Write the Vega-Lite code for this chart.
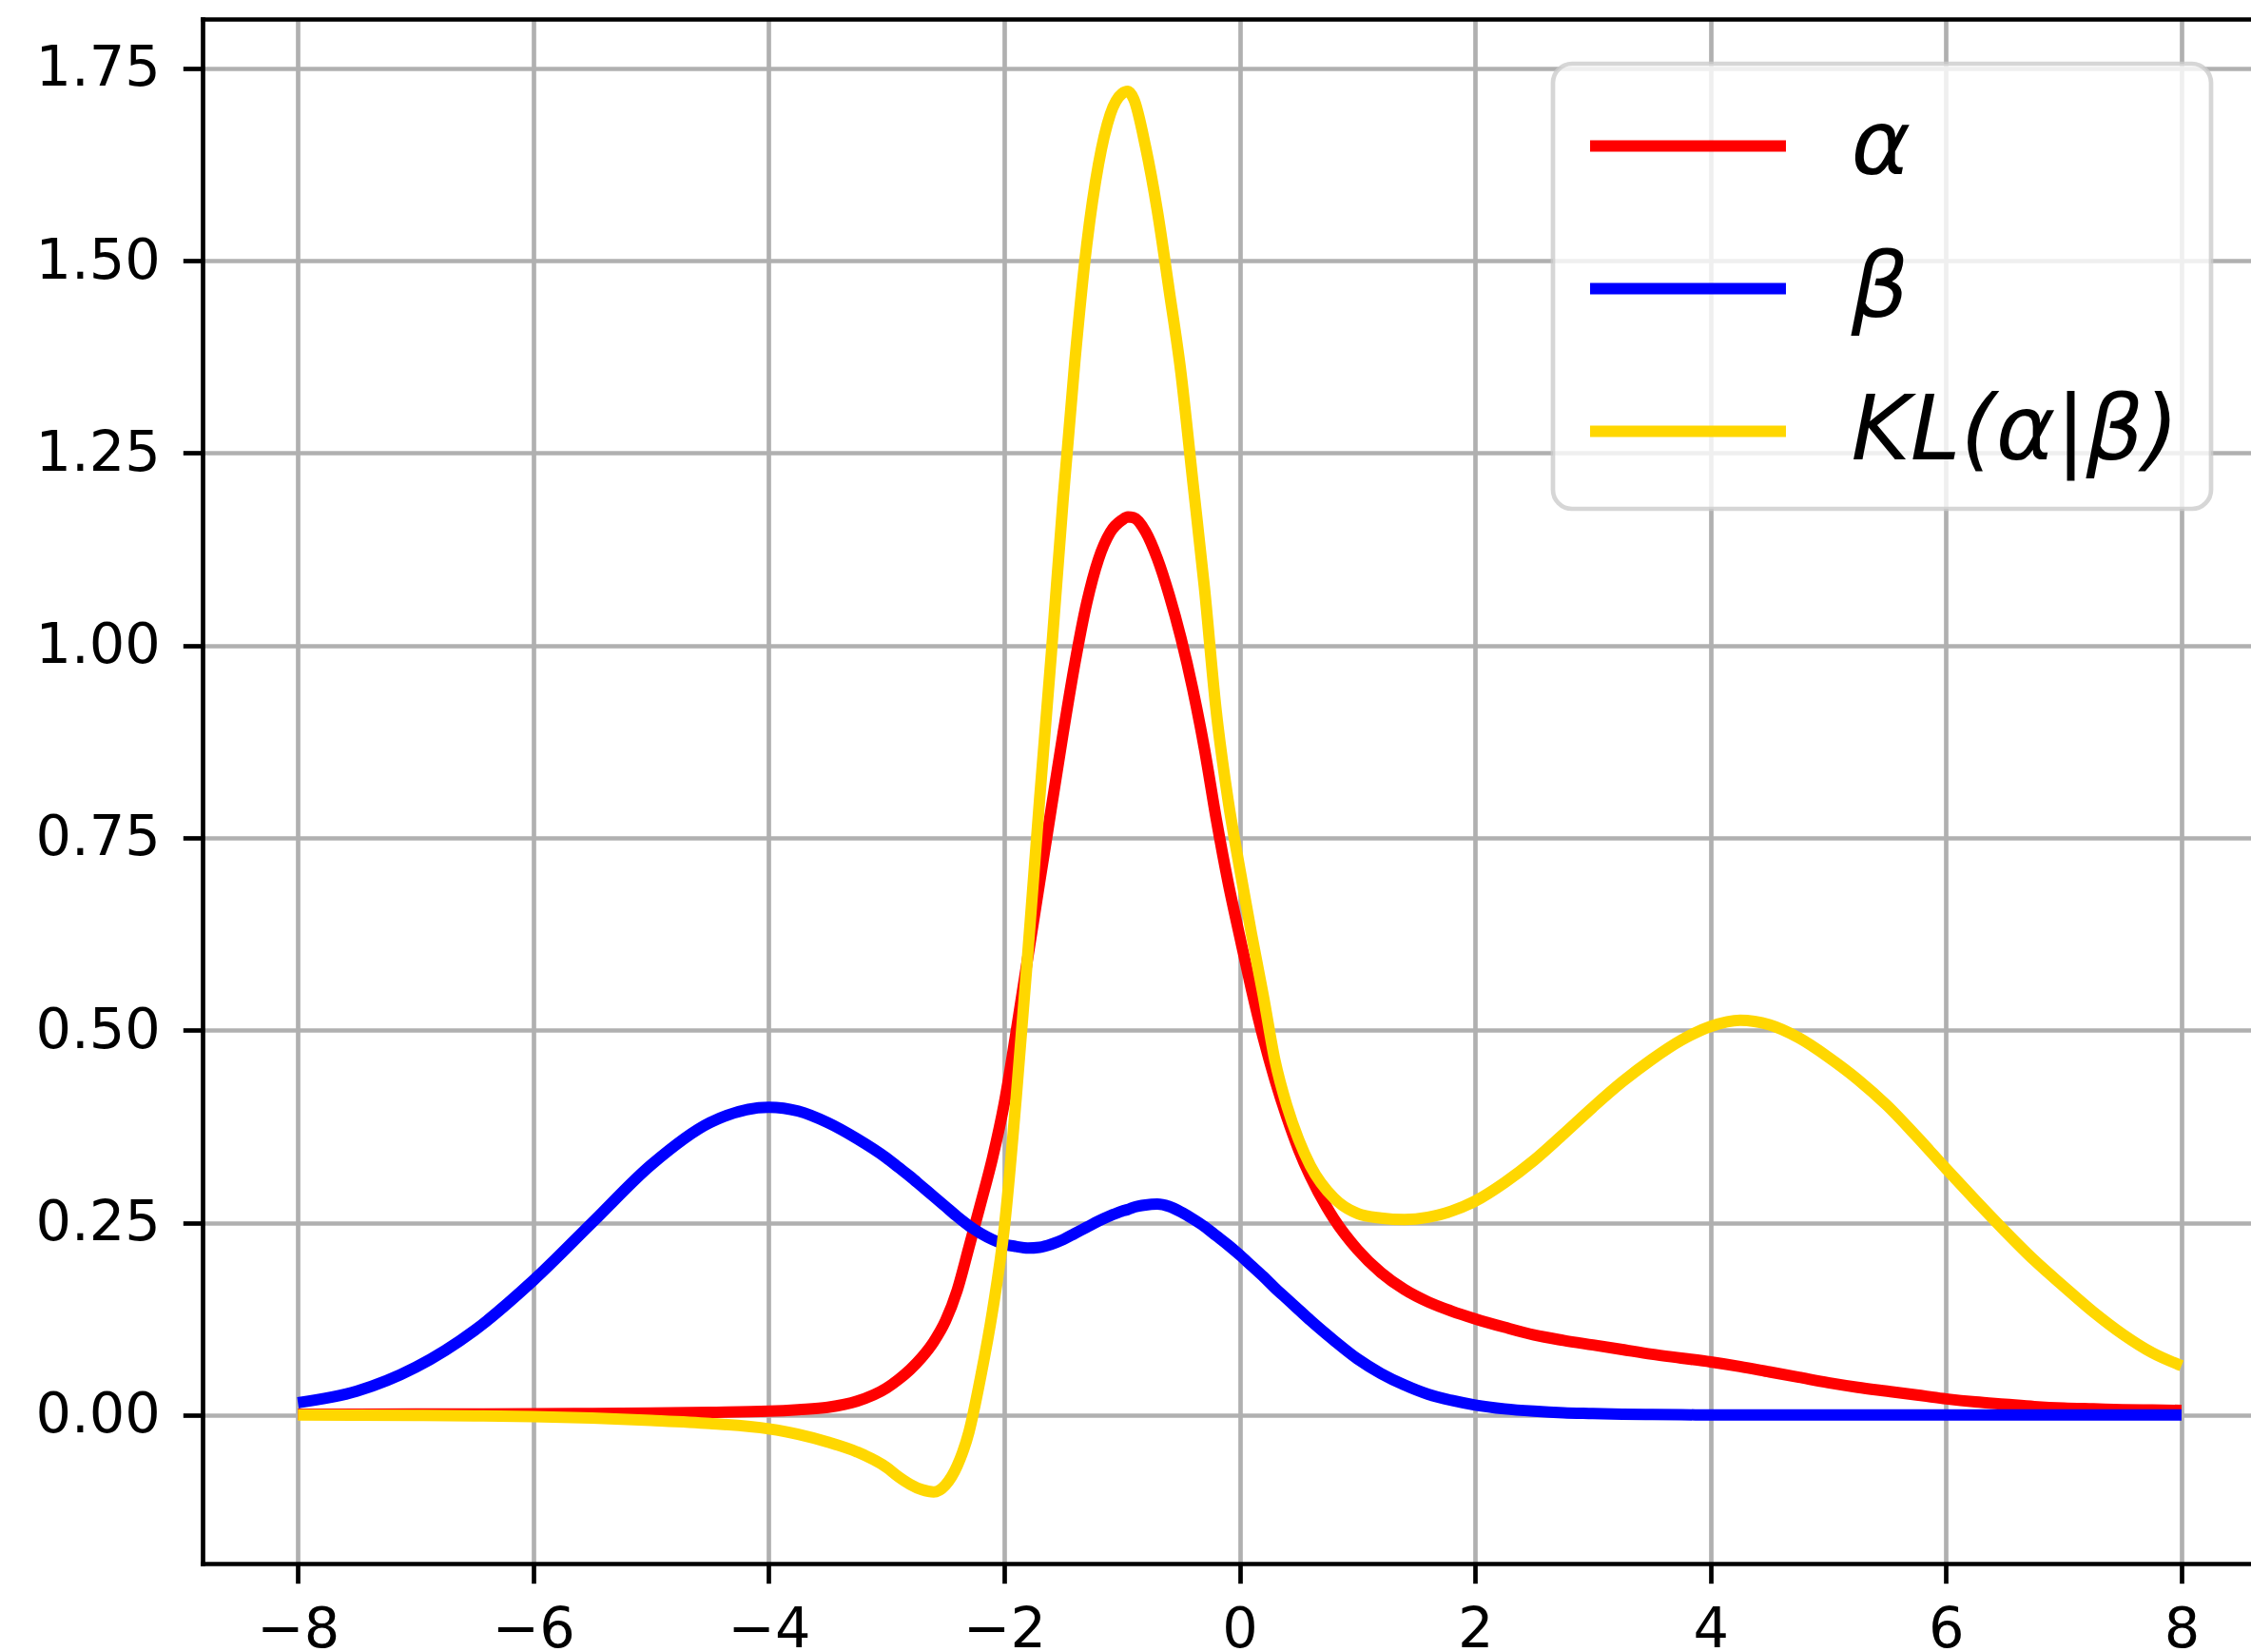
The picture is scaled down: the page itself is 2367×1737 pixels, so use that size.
{
  "$schema": "https://vega.github.io/schema/vega-lite/v6.json",
  "width": 2154,
  "height": 1624,
  "autosize": {"type": "none"},
  "padding": {"left": 213, "top": 20, "right": 0, "bottom": 93},
  "background": "white",
  "config": {
    "font": "DejaVu Sans",
    "view": {"stroke": null},
    "axis": {
      "domainColor": "black",
      "domainWidth": 4.7,
      "domainCap": "square",
      "tickColor": "black",
      "tickWidth": 4.7,
      "tickSize": 20.7,
      "gridColor": "#b0b0b0",
      "gridWidth": 4.7,
      "gridOpacity": 1,
      "labelColor": "black",
      "labelFontSize": 59,
      "labelFont": "DejaVu Sans",
      "title": null
    },
    "legend": {"strokeWidth": 4.7}
  },
  "data": {
    "values": [
      {"x": -8, "alpha": 0.001, "beta": 0.016, "kl": 0.0},
      {"x": -7.5, "alpha": 0.001, "beta": 0.031, "kl": -0.0002},
      {"x": -7, "alpha": 0.0012, "beta": 0.062, "kl": -0.0005},
      {"x": -6.5, "alpha": 0.0013, "beta": 0.11, "kl": -0.001},
      {"x": -6, "alpha": 0.0015, "beta": 0.175, "kl": -0.002},
      {"x": -5.5, "alpha": 0.002, "beta": 0.25, "kl": -0.004},
      {"x": -5, "alpha": 0.0025, "beta": 0.325, "kl": -0.007},
      {"x": -4.5, "alpha": 0.0035, "beta": 0.38, "kl": -0.011},
      {"x": -4, "alpha": 0.005, "beta": 0.4, "kl": -0.018},
      {"x": -3.75, "alpha": 0.007, "beta": 0.395, "kl": -0.025},
      {"x": -3.5, "alpha": 0.01, "beta": 0.38, "kl": -0.035},
      {"x": -3.25, "alpha": 0.018, "beta": 0.359, "kl": -0.048},
      {"x": -3.0, "alpha": 0.035, "beta": 0.334, "kl": -0.068},
      {"x": -2.9, "alpha": 0.046, "beta": 0.322, "kl": -0.08},
      {"x": -2.8, "alpha": 0.059, "beta": 0.31, "kl": -0.09},
      {"x": -2.7, "alpha": 0.075, "beta": 0.297, "kl": -0.097},
      {"x": -2.6, "alpha": 0.095, "beta": 0.284, "kl": -0.1},
      {"x": -2.5, "alpha": 0.122, "beta": 0.271, "kl": -0.091},
      {"x": -2.4, "alpha": 0.162, "beta": 0.258, "kl": -0.066},
      {"x": -2.3, "alpha": 0.218, "beta": 0.246, "kl": -0.022},
      {"x": -2.2, "alpha": 0.275, "beta": 0.236, "kl": 0.05},
      {"x": -2.1, "alpha": 0.334, "beta": 0.228, "kl": 0.135},
      {"x": -2.0, "alpha": 0.405, "beta": 0.222, "kl": 0.243},
      {"x": -1.9, "alpha": 0.497, "beta": 0.219, "kl": 0.41},
      {"x": -1.8, "alpha": 0.595, "beta": 0.217, "kl": 0.6},
      {"x": -1.7, "alpha": 0.692, "beta": 0.218, "kl": 0.8},
      {"x": -1.6, "alpha": 0.789, "beta": 0.222, "kl": 0.99},
      {"x": -1.5, "alpha": 0.886, "beta": 0.228, "kl": 1.19},
      {"x": -1.4, "alpha": 0.977, "beta": 0.236, "kl": 1.37},
      {"x": -1.3, "alpha": 1.055, "beta": 0.244, "kl": 1.52},
      {"x": -1.2, "alpha": 1.112, "beta": 0.252, "kl": 1.625},
      {"x": -1.1, "alpha": 1.147, "beta": 0.259, "kl": 1.69},
      {"x": -1.0, "alpha": 1.163, "beta": 0.265, "kl": 1.717},
      {"x": -0.95, "alpha": 1.167, "beta": 0.267, "kl": 1.72},
      {"x": -0.9, "alpha": 1.166, "beta": 0.27, "kl": 1.71},
      {"x": -0.8, "alpha": 1.148, "beta": 0.273, "kl": 1.648},
      {"x": -0.7, "alpha": 1.113, "beta": 0.274, "kl": 1.565},
      {"x": -0.6, "alpha": 1.066, "beta": 0.271, "kl": 1.462},
      {"x": -0.5, "alpha": 1.01, "beta": 0.264, "kl": 1.355},
      {"x": -0.4, "alpha": 0.944, "beta": 0.255, "kl": 1.215},
      {"x": -0.3, "alpha": 0.866, "beta": 0.245, "kl": 1.075},
      {"x": -0.2, "alpha": 0.775, "beta": 0.233, "kl": 0.915},
      {"x": -0.1, "alpha": 0.693, "beta": 0.221, "kl": 0.8},
      {"x": 0.0, "alpha": 0.622, "beta": 0.208, "kl": 0.71},
      {"x": 0.1, "alpha": 0.553, "beta": 0.194, "kl": 0.625},
      {"x": 0.2, "alpha": 0.49, "beta": 0.18, "kl": 0.545},
      {"x": 0.3, "alpha": 0.435, "beta": 0.165, "kl": 0.46},
      {"x": 0.4, "alpha": 0.387, "beta": 0.151, "kl": 0.402},
      {"x": 0.5, "alpha": 0.345, "beta": 0.137, "kl": 0.358},
      {"x": 0.6, "alpha": 0.31, "beta": 0.123, "kl": 0.324},
      {"x": 0.8, "alpha": 0.255, "beta": 0.097, "kl": 0.282},
      {"x": 1.0, "alpha": 0.215, "beta": 0.073, "kl": 0.262},
      {"x": 1.2, "alpha": 0.185, "beta": 0.054, "kl": 0.256},
      {"x": 1.4, "alpha": 0.163, "beta": 0.039, "kl": 0.254},
      {"x": 1.6, "alpha": 0.147, "beta": 0.027, "kl": 0.257},
      {"x": 1.8, "alpha": 0.135, "beta": 0.019, "kl": 0.265},
      {"x": 2.0, "alpha": 0.125, "beta": 0.013, "kl": 0.278},
      {"x": 2.25, "alpha": 0.114, "beta": 0.008, "kl": 0.302},
      {"x": 2.5, "alpha": 0.104, "beta": 0.005, "kl": 0.331},
      {"x": 2.75, "alpha": 0.097, "beta": 0.003, "kl": 0.365},
      {"x": 3.0, "alpha": 0.091, "beta": 0.002, "kl": 0.4},
      {"x": 3.25, "alpha": 0.085, "beta": 0.001, "kl": 0.433},
      {"x": 3.5, "alpha": 0.079, "beta": 0.0006, "kl": 0.462},
      {"x": 3.75, "alpha": 0.074, "beta": 0.0003, "kl": 0.487},
      {"x": 4.0, "alpha": 0.069, "beta": 0.0002, "kl": 0.505},
      {"x": 4.25, "alpha": 0.063, "beta": 0.0001, "kl": 0.513},
      {"x": 4.5, "alpha": 0.056, "beta": 0.0, "kl": 0.507},
      {"x": 4.75, "alpha": 0.049, "beta": 0.0, "kl": 0.49},
      {"x": 5.0, "alpha": 0.042, "beta": 0.0, "kl": 0.465},
      {"x": 5.25, "alpha": 0.036, "beta": 0.0, "kl": 0.436},
      {"x": 5.5, "alpha": 0.031, "beta": 0.0, "kl": 0.402},
      {"x": 5.75, "alpha": 0.026, "beta": 0.0, "kl": 0.362},
      {"x": 6.0, "alpha": 0.021, "beta": 0.0, "kl": 0.32},
      {"x": 6.25, "alpha": 0.017, "beta": 0.0, "kl": 0.279},
      {"x": 6.5, "alpha": 0.014, "beta": 0.0, "kl": 0.239},
      {"x": 6.75, "alpha": 0.011, "beta": 0.0, "kl": 0.201},
      {"x": 7.0, "alpha": 0.009, "beta": 0.0, "kl": 0.167},
      {"x": 7.25, "alpha": 0.008, "beta": 0.0, "kl": 0.134},
      {"x": 7.5, "alpha": 0.007, "beta": 0.0, "kl": 0.105},
      {"x": 7.75, "alpha": 0.0065, "beta": 0.0, "kl": 0.081},
      {"x": 8.0, "alpha": 0.006, "beta": 0.0, "kl": 0.064}
    ]
  },
  "transform": [{"fold": ["alpha", "beta", "kl"], "as": ["series", "value"]}],
  "layer": [
    {
      "mark": {"type": "line", "strokeWidth": 12, "interpolate": "monotone", "strokeJoin": "round"},
      "encoding": {
        "x": {
          "field": "x",
          "type": "quantitative",
          "scale": {"domain": [-8.81, 8.59], "nice": false, "zero": false},
          "axis": {"values": [-8, -6, -4, -2, 0, 2, 4, 6, 8], "format": "d", "labelPadding": 20, "labelFlush": false, "labelOverlap": false}
        },
        "y": {
          "field": "value",
          "type": "quantitative",
          "scale": {"domain": [-0.193, 1.814], "nice": false, "zero": false},
          "axis": {"values": [0, 0.25, 0.5, 0.75, 1.0, 1.25, 1.5, 1.75], "format": ".2f", "labelPadding": 24, "labelFlush": false, "labelOverlap": false}
        },
        "color": {
          "field": "series",
          "type": "nominal",
          "scale": {"domain": ["alpha", "beta", "kl"], "range": ["#ff0000", "#0000ff", "#ffd700"]},
          "legend": {
            "orient": "none",
            "legendX": 1420,
            "legendY": 47,
            "title": null,
            "symbolType": "M-2.168,0H2.168",
            "symbolSize": 9025,
            "symbolOffset": 55.5,
            "symbolStrokeWidth": 12,
            "labelFontSize": 95,
            "labelFontStyle": "italic",
            "labelFont": "DejaVu Sans",
            "labelColor": "black",
            "labelOffset": 118,
            "labelLimit": 900,
            "rowPadding": 48,
            "padding": 33,
            "fillColor": "rgba(255,255,255,0.8)",
            "strokeColor": "rgba(204,204,204,0.8)",
            "cornerRadius": 20,
            "labelExpr": "datum.value == 'alpha' ? 'α' : datum.value == 'beta' ? 'β' : 'KL(α|β)'"
          }
        }
      }
    },
    {
      "mark": {"type": "rule", "opacity": 0},
      "encoding": {
        "x": {
          "field": "x",
          "type": "quantitative",
          "scale": {"domain": [-8.81, 8.59], "nice": false, "zero": false},
          "axis": {"orient": "top", "labels": false, "ticks": false, "grid": false, "domain": true}
        }
      }
    }
  ],
  "resolve": {"axis": {"x": "independent"}}
}
